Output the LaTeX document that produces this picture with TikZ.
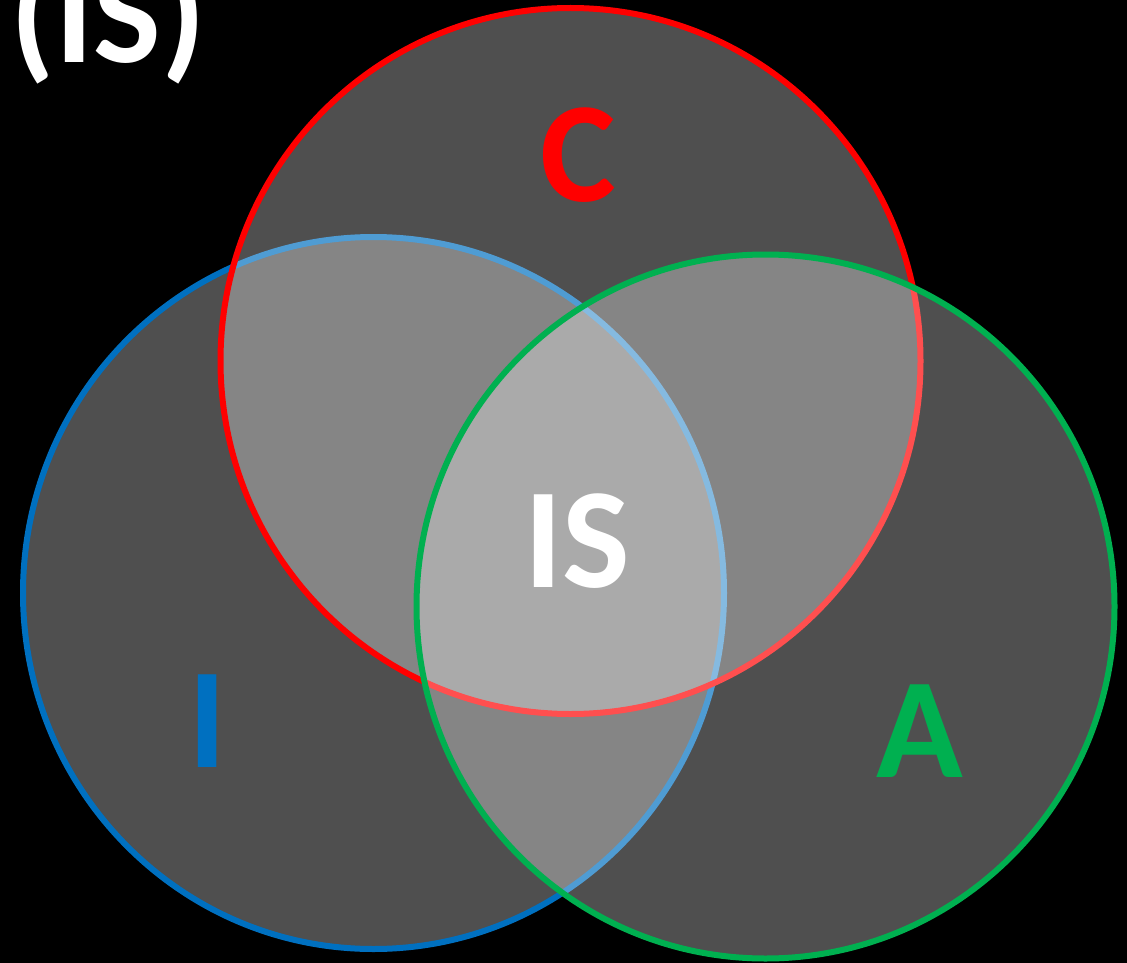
\documentclass[tikz,border=0pt]{standalone}
\usepackage{fontspec}
\setmainfont{Carlito}
\definecolor{setred}{HTML}{FF0000}
\definecolor{setblue}{HTML}{0070C0}
\definecolor{setgreen}{HTML}{00B050}
\begin{document}
\begin{tikzpicture}[x=1pt,y=-1pt,
  setcircle/.style={line width=6pt, fill=white, fill opacity=0.31, draw opacity=1},
  biglabel/.style={inner sep=0pt, anchor=base, font=\fontsize{143}{143}\selectfont\bfseries}]
  % black page
  \fill[black] (0,0) rectangle (1127,963);
  \useasboundingbox (0,0) rectangle (1127,963);
  % the three sets, drawn back to front
  \draw[setcircle, draw=setblue]  (373.5,593) ellipse [x radius=350.5, y radius=356];
  \draw[setcircle, draw=setred]   (570.5,361) ellipse [x radius=350, y radius=353];
  \draw[setcircle, draw=setgreen] (765.5,606.5) ellipse [x radius=349, y radius=352];
  % labels
  \node[biglabel, text=white]    (title) at (108,63)  {(IS)};
  \node[biglabel, text=setred]   (c)     at (578,201) {C};
  \node[biglabel, text=setblue]  (i)     at (208,767) {I};
  \node[biglabel, text=setgreen] (a)     at (920,777) {A};
  \node[biglabel, text=white]    (is)    at (577,587) {IS};
\end{tikzpicture}
\end{document}
